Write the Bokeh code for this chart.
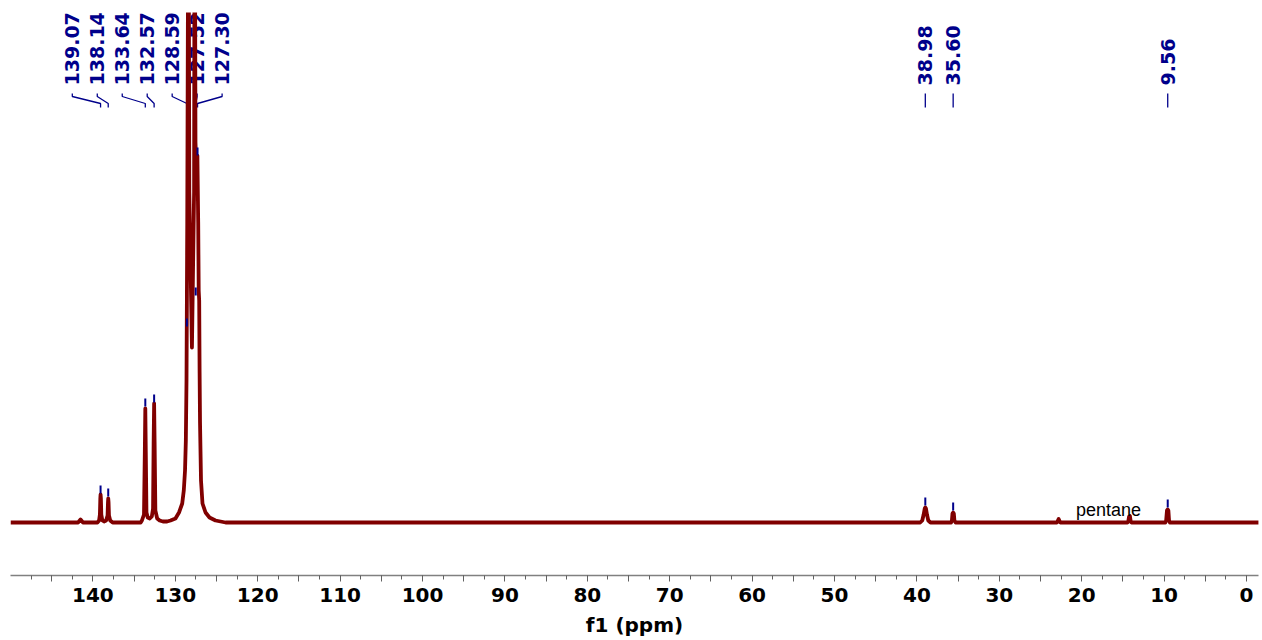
import numpy as np
from bokeh.plotting import figure
from bokeh.models import Range1d, FixedTicker, CustomJSTickFormatter
from bokeh.core.properties import value
from bokeh.embed import file_html
from bokeh.resources import INLINE

# ---------------- data ----------------
# 13C spectrum trace (chemical shift in ppm, intensity in arbitrary units)
spec_ppm = [150.0, 141.8, 141.5, 141.2,
            139.45, 139.25, 139.15, 139.10, 139.07, 139.03, 138.98, 138.85, 138.65,
            138.40, 138.22, 138.17, 138.14, 138.10, 138.05, 137.90, 137.60,
            134.20, 134.05, 133.80, 133.70, 133.64, 133.58, 133.50, 133.35, 133.10,
            132.85, 132.70, 132.63, 132.57, 132.51, 132.42, 132.20, 131.90, 131.50,
            131.00, 130.58, 129.98, 129.55, 129.16, 128.97, 128.82, 128.72, 128.64,
            128.55, 128.40, 128.30, 127.98, 127.72, 127.65, 127.55, 127.47, 127.32,
            127.22, 127.16, 127.10, 127.05, 127.00, 126.88, 126.70, 126.33, 125.85,
            125.12, 123.90,
            39.60, 39.35, 39.18, 39.05, 38.98, 38.90, 38.78, 38.62, 38.35,
            35.85, 35.75, 35.68, 35.60, 35.52, 35.45, 35.30,
            23.00, 22.80, 22.60,
            14.45, 14.35, 14.25, 14.15, 14.05, 13.95,
            9.85, 9.75, 9.65, 9.56, 9.48, 9.40, 9.30,
            -1.5]
spec_int = [0, 0, 3, 0,
            0, 2, 8, 24, 28, 24, 8, 2, 1,
            2, 7, 20, 24, 20, 7, 2, 0,
            0, 2, 8, 70, 114, 70, 10, 5, 4,
            6, 14, 80, 119, 80, 12, 4, 2, 1,
            1, 2, 4, 10, 19, 32, 52, 82, 142,
            300, 700, 330, 175, 330, 700, 380, 362, 367,
            300, 232, 222, 150, 100, 42, 19, 10, 5,
            2, 0,
            0, 2, 8, 14, 15, 14, 8, 2, 0,
            0, 2, 9, 10, 9, 2, 0,
            0, 3.5, 0,
            0, 1, 6, 6.5, 1, 0,
            0, 2, 12, 13, 12, 2, 0,
            0]

# picked peaks
peak_labels = ["139.07", "138.14", "133.64", "132.57", "128.59", "127.52", "127.30",
               "38.98", "35.60", "9.56"]
peak_ppm = [139.07, 138.14, 133.64, 132.57, 128.59, 127.52, 127.30, 38.98, 35.60, 9.56]
peak_top = [29, 26, 116, 120, 196, 227, 367, 17, 12, 15]   # intensity just above each peak

annot_text = ["pentane"]
annot_ppm = [16.75]
annot_int = [13]

# ---------------- layout helpers (not data) ----------------
n_group = 7
label_ppm = list(peak_ppm)
for i in range(n_group):
    label_ppm[i] = 142.5 - 3.03 * i

LABEL_Y = 437
C1, C2, C3, C4 = 429, 426, 419, 415
TICK_LEN = 8

xs, ys = [], []
for lp, pp in zip(label_ppm, peak_ppm):
    xs.append([lp, lp, pp, pp])
    ys.append([C1, C2, C3, C4])

RED = "#800000"
BLUE = "#00008B"

p = figure(width=1262, height=640,
           x_range=Range1d(150.0, -1.456), y_range=Range1d(-53, 510),
           output_backend="svg", toolbar_location=None,
           y_axis_location=None,
           min_border_left=10, min_border_right=4, min_border_top=12, min_border_bottom=65)
p.grid.visible = False
p.outline_line_color = None
p.background_fill_color = "white"
p.border_fill_color = "white"

xa = p.xaxis[0]
xa.ticker = FixedTicker(ticks=[5 * i for i in range(0, 30)],
                        minor_ticks=[2.5 * i for i in range(0, 60)])
xa.formatter = CustomJSTickFormatter(
    code="return (Math.round(tick) % 10 === 0) ? tick.toFixed(0) : '';")
xa.axis_line_color = "#808080"
xa.axis_line_width = 1.5
xa.major_tick_line_color = "#606060"
xa.minor_tick_line_color = "#606060"
xa.major_tick_in = 0
xa.major_tick_out = 6
xa.minor_tick_in = 0
xa.minor_tick_out = 4
xa.major_label_standoff = 6
xa.major_label_text_font = "DejaVu Sans"
xa.major_label_text_font_style = "bold"
xa.major_label_text_font_size = "20px"
xa.major_label_text_color = "black"
xa.axis_label = "f1 (ppm)"
xa.axis_label_standoff = 8
xa.axis_label_text_font = "DejaVu Sans"
xa.axis_label_text_font_style = "bold"
xa.axis_label_text_font_size = "20px"
xa.axis_label_text_color = "black"

# peak labels (rotated)
p.text(x=label_ppm, y=[LABEL_Y] * len(label_ppm), text=peak_labels,
       angle=np.pi / 2, text_align="left", text_baseline="middle",
       text_font=value("DejaVu Sans"), text_font_style="bold",
       text_font_size="19px", text_color=BLUE)
p.multi_line(xs, ys, line_color=BLUE, line_width=1.3)

# spectrum
p.line(spec_ppm, spec_int, line_color=RED, line_width=3.8, line_join="round")

# peak pick marks
p.segment(x0=peak_ppm, y0=peak_top, x1=peak_ppm,
          y1=[t + TICK_LEN for t in peak_top], line_color=BLUE, line_width=2)

# annotation
p.text(x=annot_ppm, y=annot_int, text=annot_text, text_align="center",
       text_baseline="middle", text_font=value("Liberation Sans"),
       text_font_size="18px", text_color="black")

open("out.html", "w").write(file_html(p, INLINE))
